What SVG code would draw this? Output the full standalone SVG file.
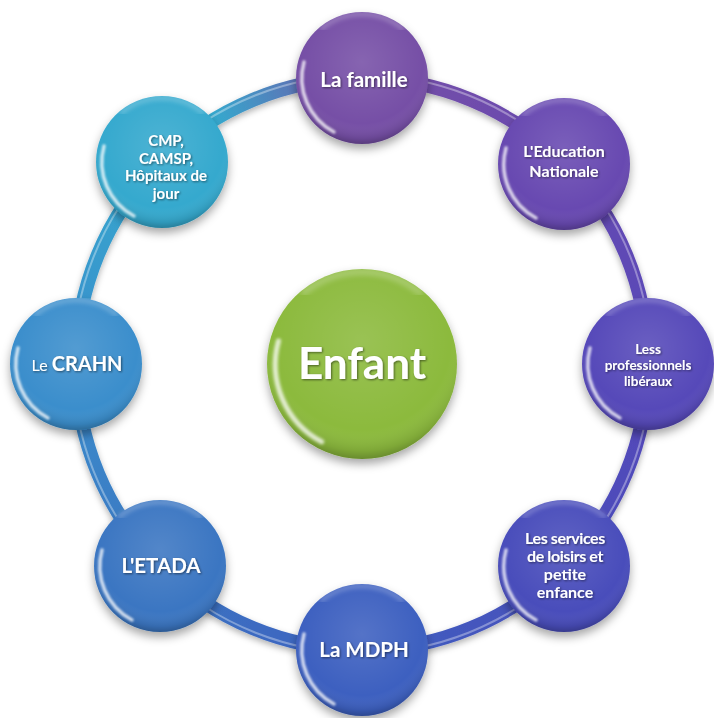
<svg xmlns="http://www.w3.org/2000/svg" width="714" height="718" viewBox="0 0 714 718">
<defs>
<style>
.t{fill:#fff;font-family:Lato,"Open Sans","Liberation Sans",sans-serif;font-weight:700;text-anchor:middle;filter:url(#ts)}
.ring{fill:none;stroke-width:14;stroke-linecap:butt}
.shade{fill:url(#shade)}
.glint{fill:none;stroke:#fff;stroke-width:3.5;stroke-linecap:round;opacity:.75;filter:url(#blur1)}
.top{fill:none;stroke:#fff;stroke-width:5;stroke-linecap:round;opacity:.22;filter:url(#blur2)}
.base{filter:url(#ds)}
</style>
<filter id="ds" x="-30%" y="-30%" width="160%" height="170%"><feDropShadow dx="0" dy="5" stdDeviation="5" flood-color="#000" flood-opacity="0.35"/></filter>
<filter id="ts" x="-10%" y="-30%" width="120%" height="160%"><feDropShadow dx="1" dy="1" stdDeviation="0.8" flood-color="#000" flood-opacity="0.5"/></filter>
<filter id="blur1"><feGaussianBlur stdDeviation="1"/></filter>
<filter id="blur2"><feGaussianBlur stdDeviation="2"/></filter>
<filter id="rs" x="-10%" y="-10%" width="120%" height="120%"><feDropShadow dx="0" dy="3" stdDeviation="3" flood-color="#000" flood-opacity="0.3"/></filter>
<radialGradient id="shade" cx="50%" cy="38%" r="62%">
<stop offset="0" stop-color="#fff" stop-opacity="0.12"/>
<stop offset="0.75" stop-color="#fff" stop-opacity="0"/>
<stop offset="0.93" stop-color="#000" stop-opacity="0.10"/>
<stop offset="1" stop-color="#000" stop-opacity="0.25"/>
</radialGradient>
<linearGradient id="g1" gradientUnits="userSpaceOnUse" x1="160" y1="162" x2="362" y2="78"><stop offset="0.3" stop-color="#35A9CE"/><stop offset="1" stop-color="#7650A6"/></linearGradient>
<linearGradient id="g2" gradientUnits="userSpaceOnUse" x1="362" y1="78" x2="564" y2="162"><stop offset="0" stop-color="#7650A6"/><stop offset="1" stop-color="#6849B1"/></linearGradient>
<linearGradient id="g3" gradientUnits="userSpaceOnUse" x1="564" y1="162" x2="648" y2="364"><stop offset="0" stop-color="#6849B1"/><stop offset="1" stop-color="#5648B9"/></linearGradient>
<linearGradient id="g4" gradientUnits="userSpaceOnUse" x1="648" y1="364" x2="564" y2="566"><stop offset="0" stop-color="#5648B9"/><stop offset="1" stop-color="#4A4EBB"/></linearGradient>
<linearGradient id="g5" gradientUnits="userSpaceOnUse" x1="564" y1="566" x2="362" y2="650"><stop offset="0" stop-color="#4A4EBB"/><stop offset="1" stop-color="#3E60C0"/></linearGradient>
<linearGradient id="g6" gradientUnits="userSpaceOnUse" x1="362" y1="650" x2="160" y2="566"><stop offset="0" stop-color="#3E60C0"/><stop offset="1" stop-color="#3A76C2"/></linearGradient>
<linearGradient id="g7" gradientUnits="userSpaceOnUse" x1="160" y1="566" x2="76" y2="364"><stop offset="0" stop-color="#3A76C2"/><stop offset="1" stop-color="#3A8ECC"/></linearGradient>
<linearGradient id="g8" gradientUnits="userSpaceOnUse" x1="76" y1="364" x2="160" y2="162"><stop offset="0" stop-color="#3A8ECC"/><stop offset="1" stop-color="#35A9CE"/></linearGradient>
<g id="deco">
<circle r="66" class="shade"/>
<path class="top" d="M -40 -50 A 64 64 0 0 1 40 -50"/>
<path class="glint" d="M -28 54 A 61 61 0 0 1 -58 -16"/>
</g>
</defs>

<g id="connectors" filter="url(#rs)">
<path class="ring" stroke="url(#g1)" d="M 160 162 A 286 286 0 0 1 362 78"/>
<path class="ring" stroke="url(#g2)" d="M 362 78 A 286 286 0 0 1 564 162"/>
<path class="ring" stroke="url(#g3)" d="M 564 162 A 286 286 0 0 1 648 364"/>
<path class="ring" stroke="url(#g4)" d="M 648 364 A 286 286 0 0 1 564 566"/>
<path class="ring" stroke="url(#g5)" d="M 564 566 A 286 286 0 0 1 362 650"/>
<path class="ring" stroke="url(#g6)" d="M 362 650 A 286 286 0 0 1 160 566"/>
<path class="ring" stroke="url(#g7)" d="M 160 566 A 286 286 0 0 1 76 364"/>
<path class="ring" stroke="url(#g8)" d="M 76 364 A 286 286 0 0 1 160 162"/>
<circle cx="362" cy="364" r="289" fill="none" stroke="#fff" stroke-width="2" opacity="0.35"/>
</g>

<g id="enfant">
<circle cx="362" cy="364" r="95" fill="#8CBA3E" class="base"/>
<use href="#deco" transform="translate(362,364) scale(1.44)"/>
<text class="t" x="362" y="379" font-size="44">Enfant</text>
</g>

<g id="famille">
<circle cx="362" cy="78" r="66" fill="#7650A6" class="base"/>
<use href="#deco" x="362" y="78"/>
<text class="t" x="364" y="87" font-size="20.5">La famille</text>
</g>

<g id="education">
<circle cx="564" cy="164" r="66" fill="#6849B1" class="base"/>
<use href="#deco" x="564" y="164"/>
<text class="t" x="564" y="157" font-size="16">L'Education</text>
<text class="t" x="564" y="177" font-size="16">Nationale</text>
</g>

<g id="professionnels">
<circle cx="648" cy="364" r="66" fill="#5648B9" class="base"/>
<use href="#deco" x="648" y="364"/>
<text class="t" x="648" y="354" font-size="13.5">Less</text>
<text class="t" x="648" y="370" font-size="13.5">professionnels</text>
<text class="t" x="648" y="386" font-size="13.5">libéraux</text>
</g>

<g id="services">
<circle cx="564" cy="566" r="66" fill="#4A4EBB" class="base"/>
<use href="#deco" x="564" y="566"/>
<text class="t" x="565" y="544" font-size="16" letter-spacing="-0.4">Les services</text>
<text class="t" x="565" y="562" font-size="16" letter-spacing="-0.4">de loisirs et</text>
<text class="t" x="565" y="580" font-size="16">petite</text>
<text class="t" x="565" y="598" font-size="16">enfance</text>
</g>

<g id="mdph">
<circle cx="362" cy="650" r="66" fill="#3E60C0" class="base"/>
<use href="#deco" x="362" y="650"/>
<text class="t" x="364" y="657" font-size="20.5">La MDPH</text>
</g>

<g id="etada">
<circle cx="160" cy="566" r="66" fill="#3A76C2" class="base"/>
<use href="#deco" x="160" y="566"/>
<text class="t" x="161" y="573" font-size="20.5">L'ETADA</text>
</g>

<g id="crahn">
<circle cx="76" cy="364" r="66" fill="#3A8ECC" class="base"/>
<use href="#deco" x="76" y="364"/>
<text class="t" x="77" y="371" font-size="20"><tspan font-size="16" font-weight="400">Le </tspan>CRAHN</text>
</g>

<g id="cmp">
<circle cx="162" cy="162" r="66" fill="#35A9CE" class="base"/>
<use href="#deco" x="162" y="162"/>
<text class="t" x="166" y="146" font-size="15">CMP,</text>
<text class="t" x="166" y="163.5" font-size="15">CAMSP,</text>
<text class="t" x="166" y="181" font-size="15">Hôpitaux de</text>
<text class="t" x="166" y="198.5" font-size="15">jour</text>
</g>
</svg>
